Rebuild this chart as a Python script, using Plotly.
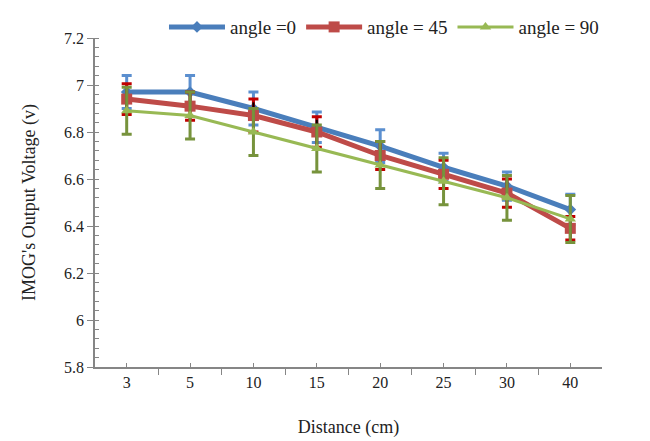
import plotly.graph_objects as go

distances = ["3", "5", "10", "15", "20", "25", "30", "40"]
angle0 = [6.97, 6.97, 6.90, 6.82, 6.74, 6.65, 6.57, 6.47]
angle0_err = [0.07, 0.07, 0.07, 0.065, 0.07, 0.06, 0.06, 0.065]
angle45 = [6.94, 6.91, 6.87, 6.80, 6.70, 6.62, 6.54, 6.39]
angle45_err = [0.065, 0.06, 0.07, 0.065, 0.06, 0.06, 0.06, 0.05]
angle90 = [6.89, 6.87, 6.80, 6.73, 6.66, 6.59, 6.52, 6.43]
angle90_err = [0.10, 0.10, 0.10, 0.10, 0.10, 0.10, 0.095, 0.10]

xpos = list(range(len(distances)))
font = "Liberation Serif, Times New Roman, serif"

fig = go.Figure()
series = [
    ("angle =0", angle0, angle0_err, "#4A7EBB", "#5B8FCF", "diamond", 5, 9),
    ("angle = 45", angle45, angle45_err, "#BE4B48", "#C00000", "square", 5, 11),
    ("angle = 90", angle90, angle90_err, "#98B954", "#77933C", "triangle-up", 3, 10),
]
for name, y, e, col, ecol, sym, lw, ms in series:
    fig.add_trace(go.Scatter(
        x=xpos, y=y, name=name, mode="lines+markers",
        line=dict(color=col, width=lw),
        marker=dict(symbol=sym, size=ms, color=col),
        error_y=dict(type="data", array=e, visible=True, color=ecol, thickness=3, width=5),
    ))
    if name == "angle = 45":
        fig.add_trace(go.Scatter(
            x=xpos, y=y, mode="markers", showlegend=False, hoverinfo="skip",
            marker=dict(size=1, color="rgba(0,0,0,0)"),
            error_y=dict(type="data", array=[v * 0.8 for v in e], visible=True,
                         color="black", thickness=2, width=0),
        ))

axcol = "#868686"
fig.update_layout(
    width=642, height=433,
    margin=dict(l=87, r=48, t=30, b=74, autoexpand=False),
    paper_bgcolor="white", plot_bgcolor="white",
    font=dict(family=font, size=16, color="#222"),
    legend=dict(orientation="h", x=0.57, xanchor="center", y=1.091, yanchor="top",
                itemwidth=56, font=dict(family=font, size=19), bgcolor="rgba(0,0,0,0)"),
    xaxis=dict(
        range=[-0.5, len(distances) - 0.5],
        tickmode="array", tickvals=xpos, ticktext=distances,
        showline=True, linecolor=axcol, linewidth=1.5,
        ticks="inside", ticklen=4, tickcolor=axcol,
        minor=dict(tickmode="linear", tick0=-0.5, dtick=1, ticks="outside", ticklen=6, tickcolor=axcol),
        showgrid=False, zeroline=False,
        title=dict(text="Distance (cm)", font=dict(family=font, size=18), standoff=30),
        tickfont=dict(size=16),
    ),
    yaxis=dict(
        range=[5.8, 7.2], dtick=0.2, tick0=5.8,
        tickformat="~g",
        showline=True, linecolor=axcol, linewidth=1.5,
        ticks="outside", ticklen=6, tickcolor=axcol,
        minor=dict(dtick=0.04, ticks="inside", ticklen=4, tickcolor=axcol),
        showgrid=False, zeroline=False,
        title=dict(text="IMOG's Output Voltage (v)", font=dict(family=font, size=18), standoff=24),
        tickfont=dict(size=16),
    ),
)

fig.write_html("out.html")
